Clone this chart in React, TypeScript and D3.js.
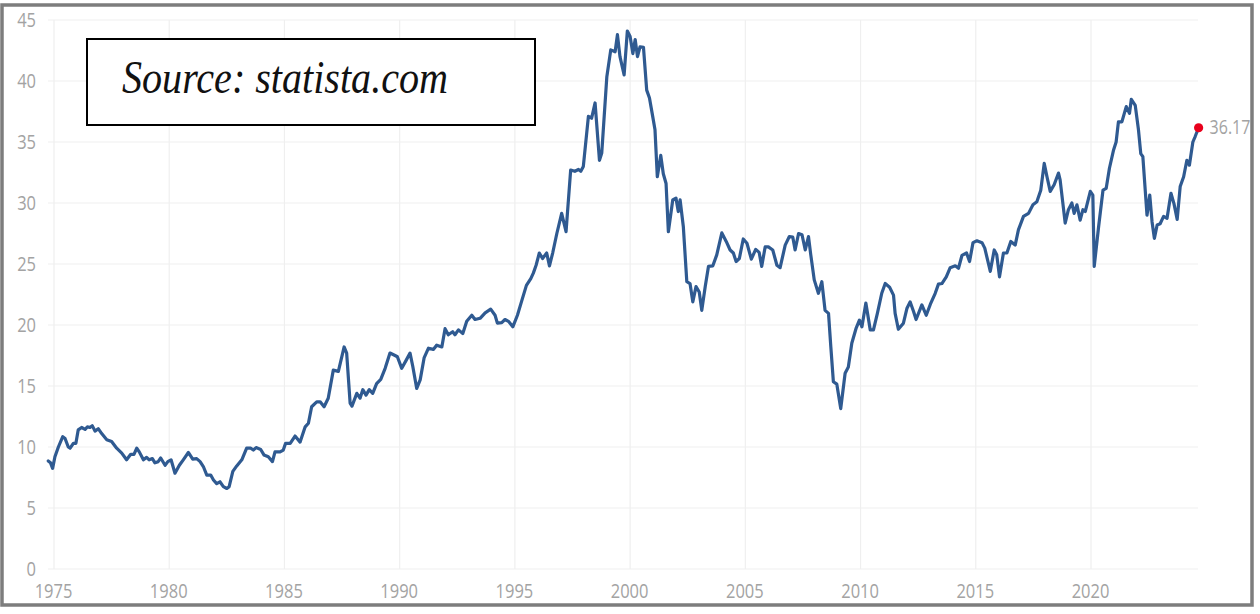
import React from "react";
import * as d3 from "d3";

const years: number[] = [
  1974.75, 1974.85, 1974.94, 1975.04, 1975.19, 1975.38, 1975.48, 1975.62, 1975.7, 1975.84, 1975.95,
  1976.05, 1976.2, 1976.35, 1976.45, 1976.56, 1976.66, 1976.78, 1976.92, 1977.07, 1977.29, 1977.5,
  1977.72, 1977.94, 1978.15, 1978.33, 1978.47, 1978.59, 1978.7, 1978.88, 1979.02, 1979.13, 1979.27,
  1979.38, 1979.52, 1979.63, 1979.82, 1979.94, 1980.08, 1980.25, 1980.44, 1980.61, 1980.83, 1981.02,
  1981.19, 1981.34, 1981.48, 1981.63, 1981.8, 1981.92, 1982.06, 1982.2, 1982.35, 1982.5, 1982.6,
  1982.76, 1982.93, 1983.15, 1983.36, 1983.54, 1983.65, 1983.77, 1983.97, 1984.11, 1984.3, 1984.48,
  1984.59, 1984.81, 1984.95, 1985.05, 1985.25, 1985.46, 1985.68, 1985.9, 1986.04, 1986.18, 1986.4,
  1986.55, 1986.72, 1986.9, 1987.12, 1987.34, 1987.59, 1987.7, 1987.85, 1987.93, 1988.14, 1988.28,
  1988.4, 1988.54, 1988.68, 1988.83, 1989.0, 1989.18, 1989.37, 1989.58, 1989.8, 1989.9, 1990.09,
  1990.28, 1990.45, 1990.57, 1990.74, 1990.89, 1991.06, 1991.25, 1991.46, 1991.61, 1991.83, 1991.97,
  1992.11, 1992.3, 1992.4, 1992.55, 1992.74, 1992.91, 1993.13, 1993.27, 1993.49, 1993.71, 1993.95,
  1994.14, 1994.24, 1994.43, 1994.57, 1994.72, 1994.91, 1995.11, 1995.3, 1995.5, 1995.69, 1995.8,
  1995.92, 1996.06, 1996.2, 1996.38, 1996.5, 1996.64, 1996.82, 1997.03, 1997.22, 1997.42, 1997.6,
  1997.76, 1997.86, 1997.97, 1998.19, 1998.33, 1998.48, 1998.67, 1998.77, 1998.99, 1999.16, 1999.35,
  1999.45, 1999.56, 1999.74, 1999.88, 2000.0, 2000.12, 2000.22, 2000.32, 2000.43, 2000.58, 2000.72,
  2000.84, 2000.98, 2001.08, 2001.18, 2001.33, 2001.44, 2001.56, 2001.66, 2001.85, 2001.99, 2002.09,
  2002.17, 2002.31, 2002.46, 2002.6, 2002.72, 2002.86, 2003.0, 2003.11, 2003.26, 2003.4, 2003.59,
  2003.76, 2003.98, 2004.17, 2004.34, 2004.48, 2004.6, 2004.74, 2004.91, 2005.07, 2005.26, 2005.45,
  2005.6, 2005.71, 2005.86, 2006.0, 2006.19, 2006.37, 2006.51, 2006.73, 2006.91, 2007.06, 2007.16,
  2007.31, 2007.46, 2007.6, 2007.74, 2007.84, 2007.99, 2008.17, 2008.32, 2008.46, 2008.61, 2008.71,
  2008.82, 2008.97, 2009.14, 2009.33, 2009.47, 2009.62, 2009.81, 2009.95, 2010.06, 2010.23, 2010.42,
  2010.56, 2010.73, 2010.92, 2011.07, 2011.26, 2011.43, 2011.5, 2011.64, 2011.86, 2012.01, 2012.15,
  2012.3, 2012.41, 2012.66, 2012.85, 2013.05, 2013.24, 2013.38, 2013.53, 2013.72, 2013.89, 2014.11,
  2014.25, 2014.4, 2014.6, 2014.73, 2014.88, 2015.05, 2015.27, 2015.39, 2015.63, 2015.8, 2015.91,
  2016.03, 2016.2, 2016.35, 2016.52, 2016.71, 2016.85, 2017.07, 2017.29, 2017.48, 2017.65, 2017.82,
  2017.97, 2018.09, 2018.23, 2018.4, 2018.59, 2018.66, 2018.88, 2019.02, 2019.17, 2019.27, 2019.39,
  2019.53, 2019.65, 2019.75, 2019.97, 2020.08, 2020.14, 2020.33, 2020.52, 2020.66, 2020.8, 2020.98,
  2021.09, 2021.19, 2021.34, 2021.53, 2021.67, 2021.75, 2021.92, 2022.06, 2022.16, 2022.25, 2022.43,
  2022.55, 2022.65, 2022.75, 2022.87, 2023.0, 2023.15, 2023.3, 2023.47, 2023.6, 2023.74, 2023.87,
  2024.02, 2024.16, 2024.27, 2024.42, 2024.52, 2024.67,
];

const capeValues: number[] = [
  8.85, 8.7, 8.25, 9.2, 10.0, 10.85, 10.7, 10.0, 9.9, 10.3, 10.3,
  11.4, 11.6, 11.45, 11.65, 11.6, 11.75, 11.3, 11.5, 11.1, 10.6, 10.45,
  9.9, 9.5, 8.95, 9.4, 9.4, 9.9, 9.6, 8.95, 9.15, 8.95, 9.05,
  8.7, 8.8, 9.1, 8.5, 8.8, 8.95, 7.85, 8.5, 8.95, 9.55, 9.0,
  9.05, 8.8, 8.4, 7.7, 7.7, 7.3, 7.0, 7.15, 6.75, 6.6, 6.75,
  8.0, 8.45, 8.95, 9.9, 9.9, 9.75, 9.95, 9.8, 9.35, 9.2, 8.8,
  9.6, 9.6, 9.75, 10.3, 10.3, 10.9, 10.4, 11.65, 11.95, 13.3, 13.7,
  13.7, 13.3, 14.0, 16.3, 16.2, 18.2, 17.7, 13.6, 13.35, 14.4, 14.0,
  14.7, 14.25, 14.7, 14.4, 15.2, 15.55, 16.45, 17.7, 17.5, 17.4, 16.45,
  17.1, 17.7, 16.6, 14.8, 15.5, 17.3, 18.1, 18.0, 18.35, 18.2, 19.7,
  19.2, 19.45, 19.2, 19.6, 19.3, 20.3, 20.8, 20.45, 20.55, 21.0, 21.3,
  20.8, 20.15, 20.2, 20.45, 20.3, 19.85, 20.8, 22.0, 23.25, 23.8, 24.25,
  24.9, 25.9, 25.45, 25.9, 24.85, 25.9, 27.5, 29.15, 27.65, 32.7, 32.6,
  32.75, 32.6, 33.0, 37.1, 36.95, 38.2, 33.5, 34.1, 40.35, 42.55, 42.4,
  43.8, 42.0, 40.5, 44.1, 43.65, 42.25, 43.4, 42.0, 42.8, 42.75, 39.25,
  38.6, 37.1, 36.0, 32.15, 33.9, 32.4, 31.6, 27.65, 30.25, 30.4, 29.3,
  30.25, 28.05, 23.55, 23.4, 21.9, 23.15, 22.7, 21.2, 23.15, 24.8, 24.85,
  25.75, 27.55, 26.85, 26.15, 25.9, 25.2, 25.45, 27.05, 26.7, 25.4, 26.2,
  25.95, 24.8, 26.4, 26.4, 26.15, 24.9, 24.7, 26.55, 27.25, 27.2, 26.15,
  27.5, 27.4, 26.15, 27.25, 25.75, 23.7, 22.6, 23.55, 21.2, 20.95, 18.2,
  15.35, 15.15, 13.15, 16.05, 16.55, 18.5, 19.75, 20.4, 19.85, 21.8, 19.6,
  19.6, 20.95, 22.6, 23.4, 23.1, 22.45, 20.95, 19.65, 20.15, 21.35, 21.9,
  21.1, 20.45, 21.65, 20.8, 21.8, 22.6, 23.35, 23.4, 23.95, 24.7, 24.85,
  24.65, 25.7, 25.9, 25.2, 26.75, 26.9, 26.75, 26.3, 24.4, 26.15, 25.75,
  23.95, 25.9, 25.9, 26.85, 26.55, 27.8, 28.9, 29.15, 29.85, 30.1, 31.05,
  33.25, 32.15, 30.95, 31.5, 32.45, 31.9, 28.35, 29.45, 30.0, 29.15, 29.85,
  28.6, 29.45, 29.3, 30.95, 30.65, 24.8, 28.05, 31.05, 31.2, 32.85, 34.35,
  35.0, 36.65, 36.65, 37.9, 37.35, 38.5, 38.0, 36.0, 34.05, 33.8, 29.0,
  30.65, 28.45, 27.1, 28.2, 28.3, 28.9, 28.75, 30.8, 29.95, 28.65, 31.35,
  32.15, 33.5, 33.1, 35.0, 35.45, 36.17,
];

const xTickYears: number[] = [1975, 1980, 1985, 1990, 1995, 2000, 2005, 2010, 2015, 2020];
const yTickValues: number[] = [0, 5, 10, 15, 20, 25, 30, 35, 40, 45];
const lastLabel = "36.17";
const sourceText = "Source: statista.com";

const W = 1260;
const H = 614;

export default function App() {
  const x = d3.scaleLinear().domain([1975, 2020]).range([54, 1091]);
  const y = d3.scaleLinear().domain([0, 45]).range([569, 20]);
  const gridLeft = 48;
  const gridRight = 1198;

  const pts = years.map((yr, i) => [yr, capeValues[i]] as [number, number]);
  const line = d3
    .line<[number, number]>()
    .x((d) => x(d[0]))
    .y((d) => y(d[1]))
    .curve(d3.curveLinear);

  const last = pts[pts.length - 1];
  const lx = x(last[0]);
  const ly = y(last[1]);
  const labelFont = "'Open Sans', 'Noto Sans', sans-serif";
  const labelColor = "#a3a3a3";

  return (
    <svg
      width={W}
      height={H}
      style={{ position: "absolute", left: 0, top: 0, display: "block", background: "#fff" }}
    >
      <rect x={0} y={0} width={W} height={H} fill="#fff" />
      {yTickValues.map((v) => (
        <line key={"gy" + v} x1={gridLeft} x2={gridRight} y1={y(v)} y2={y(v)} stroke="#efefef" strokeWidth={1.2} />
      ))}
      {xTickYears.map((t) => (
        <line key={"gx" + t} x1={x(t)} x2={x(t)} y1={y(45)} y2={y(0)} stroke="#efefef" strokeWidth={1.2} />
      ))}
      {yTickValues.map((v) => (
        <text
          key={"ly" + v}
          transform={`translate(36,${y(v) + 6.5}) scale(1,1.2)`}
          textAnchor="end"
          fontFamily={labelFont}
          fontSize={16.5}
          fill={labelColor}
        >
          {v}
        </text>
      ))}
      {xTickYears.map((t) => (
        <text
          key={"lx" + t}
          transform={`translate(${x(t) - 0.5},598) scale(1,1.2)`}
          textAnchor="middle"
          fontFamily={labelFont}
          fontSize={16.5}
          fill={labelColor}
        >
          {t}
        </text>
      ))}
      <path
        d={line(pts) || ""}
        fill="none"
        stroke="#2f5a91"
        strokeWidth={3.2}
        strokeLinejoin="round"
        strokeLinecap="round"
      />
      <circle cx={lx} cy={ly} r={4.6} fill="#e8001c" />
      <text
        transform={`translate(${lx + 11},${ly + 6.5}) scale(1,1.2)`}
        fontFamily={labelFont}
        fontSize={16}
        fill={labelColor}
      >
        {lastLabel}
      </text>
      <rect x={87} y={39} width={448} height={86} fill="#fff" stroke="#000" strokeWidth={2} />
      <text
        transform="translate(122,93) scale(1,1.2)"
        fontFamily="'Liberation Serif', 'DejaVu Serif', serif"
        fontStyle="italic"
        fontSize={39}
        fill="#111"
        textLength={326}
        lengthAdjust="spacingAndGlyphs"
      >
        {sourceText}
      </text>
      <rect x={2} y={5} width={1250} height={600} fill="none" stroke="#7d7d7d" strokeWidth={3.5} />
    </svg>
  );
}
